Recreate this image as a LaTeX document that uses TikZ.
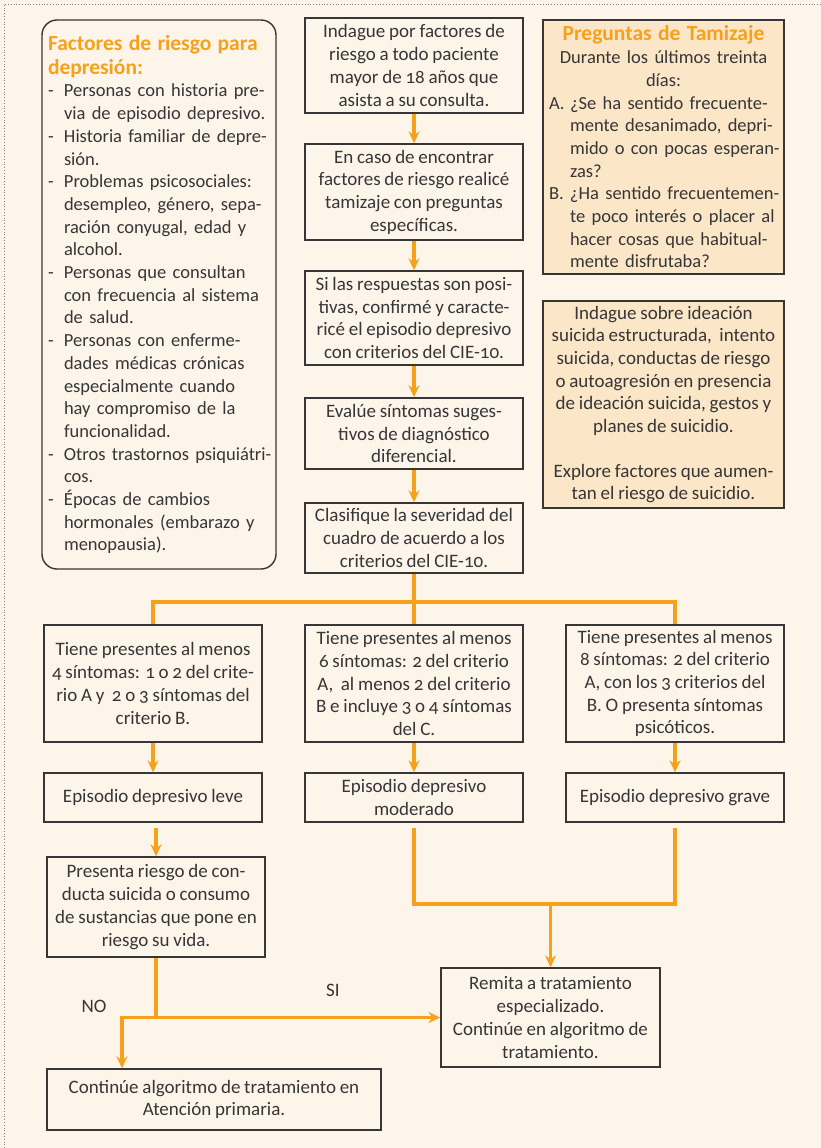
\documentclass[tikz,border=0pt]{standalone}
\usepackage{fontspec}
\setmainfont{Carlito}[Numbers=OldStyle,WordSpace=0.88]
\usetikzlibrary{arrows.meta}

\definecolor{fondo}{HTML}{FEF5EA}
\definecolor{naranja}{HTML}{F6A11C}
\definecolor{crema}{HTML}{FCE6C8}
\definecolor{tinta}{HTML}{363636}

% lineas de lista sin corte
\newcommand{\guion}[1]{\mbox{\makebox[16pt][l]{-}#1}}
\newcommand{\sangria}[1]{\mbox{\hspace*{16pt}#1}}
\newcommand{\letra}[2]{\mbox{\makebox[21pt][l]{#1}#2}}
\newcommand{\sangriab}[1]{\mbox{\hspace*{21pt}#1}}
\newcommand{\titulo}{\color{naranja}\bfseries\fontsize{21.5}{24}\selectfont}
\newcommand{\lista}{\fontsize{18.5}{22.7}\selectfont}

\begin{document}
\begin{tikzpicture}[
  x=1pt,
  y=-1pt,
  font=\fontsize{19}{22.7}\selectfont,
  text=tinta,
  flow box/.style={
    draw=tinta,
    line width=1.4pt,
    fill=fondo,
    align=center,
    inner sep=4pt
  },
  note box/.style={
    flow box,
    fill=crema,
    inner xsep=6pt
  },
  risk box/.style={
    flow box,
    rounded corners=15pt,
    align=left,
    inner xsep=6pt
  },
  flow line/.style={
    draw=naranja,
    line width=3.2pt
  },
  flow arrow/.style={
    flow line,
    -{Stealth[length=12pt,width=11pt,inset=4pt]}
  },
]
\fill[fondo] (0,0) rectangle (821,1148);
\useasboundingbox (0,0) rectangle (821,1148);
\draw[gray, dotted, line width=0.8pt] (4,1148) -- (4,4) -- (821,4);

% factores de riesgo
\node[risk box, text width=222pt, minimum height=549pt] (riesgo) at (159,294.5) {%
  {\titulo Factores de riesgo para\\depresión:\par}
  \lista
  \guion{Personas con historia pre-}\\
  \sangria{via de episodio depresivo.}\\
  \guion{Historia familiar de depre-}\\
  \sangria{sión.}\\
  \guion{Problemas psicosociales:}\\
  \sangria{desempleo, género, sepa-}\\
  \sangria{ración conyugal, edad y}\\
  \sangria{alcohol.}\\
  \guion{Personas que consultan}\\
  \sangria{con frecuencia al sistema}\\
  \sangria{de salud.}\\
  \guion{Personas con enferme-}\\
  \sangria{dades médicas crónicas}\\
  \sangria{especialmente cuando}\\
  \sangria{hay compromiso de la}\\
  \sangria{funcionalidad.}\\
  \guion{Otros trastornos psiquiátri-}\\
  \sangria{cos.}\\
  \guion{Épocas de cambios}\\
  \sangria{hormonales (embarazo y}\\
  \sangria{menopausia).}\par};

% columna central
\node[flow box, minimum width=218pt, minimum height=95pt] (indague) at (414,65.5)
  {Indague por factores de\\riesgo a todo paciente\\mayor de 18 años que\\asista a su consulta.};
\node[flow box, minimum width=218pt, minimum height=96pt] (tamizaje) at (414,192)
  {En caso de encontrar\\factores de riesgo realicé\\tamizaje con preguntas\\específicas.};
\node[flow box, minimum width=218pt, minimum height=94pt] (confirme) at (414,318)
  {Si las respuestas son posi-\\tivas, confirmé y caracte-\\ricé el episodio depresivo\\con criterios del CIE-10.};
\node[flow box, minimum width=218pt, minimum height=71pt] (evalue) at (414,433.5)
  {Evalúe síntomas suges-\\tivos de diagnóstico\\diferencial.};
\node[flow box, minimum width=218pt, minimum height=70pt] (clasifique) at (414,538)
  {Clasifique la severidad del\\cuadro de acuerdo a los\\criterios del CIE-10.};

% preguntas y suicidio
\node[note box, align=left, text width=229pt, minimum height=254pt] (preguntas) at (663.5,147) {%
  {\centering\titulo Preguntas de Tamizaje\par}
  \lista
  {\centering Durante los últimos treinta\\días:\par}
  \letra{A.}{¿Se ha sentido frecuente-}\\
  \sangriab{mente desanimado, depri-}\\
  \sangriab{mido o con pocas esperan-}\\
  \sangriab{zas?}\\
  \letra{B.}{¿Ha sentido frecuentemen-}\\
  \sangriab{te poco interés o placer al}\\
  \sangriab{hacer cosas que habitual-}\\
  \sangriab{mente disfrutaba?}\par};
\node[note box, minimum width=241pt, minimum height=207pt] (suicidio) at (663.5,404.5)
  {Indague sobre ideación\\suicida estructurada,\ \ intento\\suicida, conductas de riesgo\\o autoagresión en presencia\\de ideación suicida, gestos y\\planes de suicidio.\\[22pt]Explore factores que aumen-\\tan el riesgo de suicidio.};

% criterios
\node[flow box, minimum width=218pt, minimum height=117pt] (critleve) at (153,683.5)
  {Tiene presentes al menos\\4 síntomas: 1 o 2 del crite-\\rio A y\ \ 2 o 3 síntomas del\\criterio B.};
\node[flow box, minimum width=218pt, minimum height=117pt] (critmod) at (414,683.5)
  {Tiene presentes al menos\\6 síntomas: 2 del criterio\\A,\ \ al menos 2 del criterio\\B e incluye 3 o 4 síntomas\\del C.};
\node[flow box, minimum width=218pt, minimum height=117pt] (critgrave) at (675,683.5)
  {Tiene presentes al menos\\8 síntomas: 2 del criterio\\A, con los 3 criterios del\\B. O presenta síntomas\\psicóticos.};

% episodios
\node[flow box, minimum width=218pt, minimum height=49pt] (leve) at (153,797.5)
  {Episodio depresivo leve};
\node[flow box, minimum width=218pt, minimum height=49pt] (moderado) at (414,797.5)
  {Episodio depresivo\\moderado};
\node[flow box, minimum width=218pt, minimum height=49pt] (grave) at (675,797.5)
  {Episodio depresivo grave};

\node[flow box, minimum width=218pt, minimum height=100pt] (presenta) at (156,907)
  {Presenta riesgo de con-\\ducta suicida o consumo\\de sustancias que pone en\\riesgo su vida.};
\node[flow box, minimum width=219pt, minimum height=99pt] (remita) at (550.5,1017.5)
  {Remita a tratamiento\\especializado.\\Continúe en algoritmo de\\tratamiento.};
\node[flow box, minimum width=334pt, minimum height=61pt] (primaria) at (214,1099.5)
  {Continúe algoritmo de tratamiento en\\Atención primaria.};

\node (no) at (94,1006) {NO};
\node (si) at (333,990) {SI};

% conectores
\draw[flow arrow] (indague) -- (tamizaje);
\draw[flow arrow] (tamizaje) -- (confirme);
\draw[flow arrow] (confirme) -- (evalue);
\draw[flow arrow] (evalue) -- (clasifique);

\coordinate (rama) at (414,602);
\draw[flow line] (clasifique.south) -- (critmod.north);
\draw[flow line] (critleve.north) |- (rama) -| (critgrave.north);

\draw[flow arrow] (critleve) -- (leve);
\draw[flow arrow] (critmod) -- (moderado);
\draw[flow arrow] (critgrave) -- (grave);
\draw[flow arrow, shorten <=5pt] (leve.south -| presenta.north) -- (presenta.north);

\coordinate (union) at (remita.north |- 0,904);
\draw[flow line, shorten <=5pt] (moderado.south) |- (union);
\draw[flow line, shorten <=5pt] (grave.south) |- (union);
\draw[flow arrow] (union) -- (remita.north);

\coordinate (cruce) at (presenta.south |- remita.west);
\coordinate (giro) at (122,1017.5);
\draw[flow arrow] (presenta.south) |- (remita.west);
\draw[flow arrow] (cruce) -- (giro) -- (giro |- primaria.north);
\end{tikzpicture}
\end{document}
